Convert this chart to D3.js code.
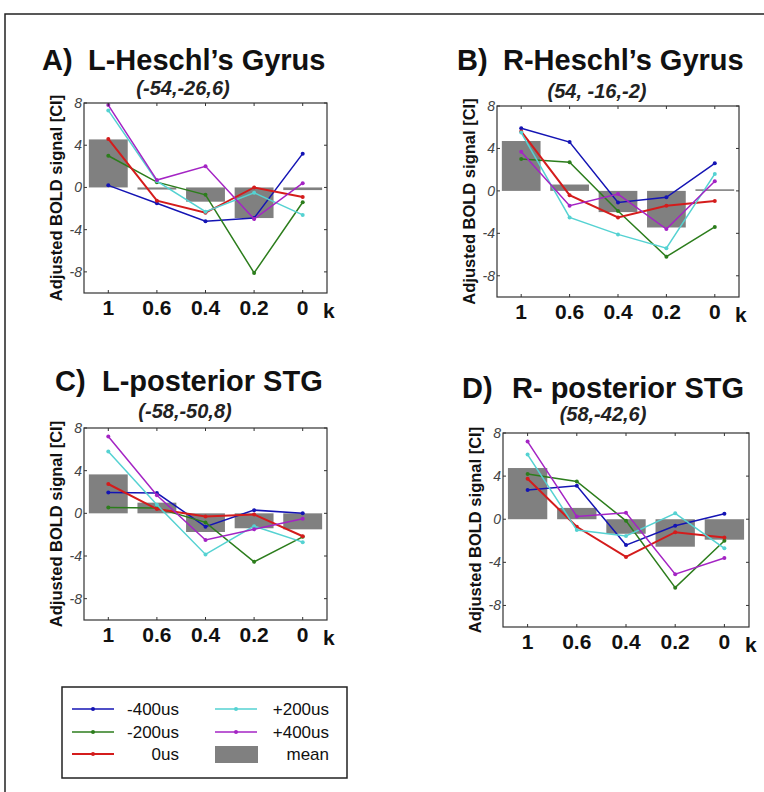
<!DOCTYPE html>
<html>
<head>
<meta charset="utf-8">
<script src="https://cdn.jsdelivr.net/npm/d3@7"></script>
<style>
  body { margin: 0; background: #fff; }
  svg { font-family: "Liberation Sans", Arial, sans-serif; }
</style>
</head>
<body>
<svg id="chart" width="764" height="792"></svg>
<script>
// categories on the x axis (k)
var kLabels = ["1", "0.6", "0.4", "0.2", "0"];
var seriesNames = ["-400us", "-200us", "0us", "+200us", "+400us"];
var seriesColors = ["#1414b4", "#2c7d1c", "#d41c1c", "#55d2d2", "#a424c4"];
var yTicks = [8, 4, 0, -4, -8];

// panel A  L-Heschl's Gyrus
var aM400 = [0.2, -1.5, -3.2, -2.9, 3.2];
var aM200 = [3.0, 0.5, -0.7, -8.1, -1.4];
var aZero = [4.6, -1.25, -2.4, 0.0, -0.9];
var aP200 = [7.3, 0.6, -2.3, -0.5, -2.6];
var aP400 = [7.8, 0.7, 2.0, -3.0, 0.4];
var aMean = [4.55, -0.2, -1.35, -2.9, -0.25];

// panel B  R-Heschl's Gyrus
var bM400 = [5.9, 4.6, -1.1, -0.6, 2.6];
var bM200 = [3.0, 2.7, -1.9, -6.2, -3.4];
var bZero = [5.6, -0.4, -2.5, -1.4, -0.95];
var bP200 = [5.5, -2.5, -4.1, -5.4, 1.6];
var bP400 = [3.7, -1.4, -0.3, -3.6, 0.9];
var bMean = [4.7, 0.6, -2.0, -3.45, 0.15];

// panel C  L-posterior STG
var cM400 = [1.95, 1.9, -1.25, 0.3, 0.0];
var cM200 = [0.55, 0.5, -0.85, -4.55, -2.2];
var cZero = [2.75, 0.4, -0.3, -0.1, -2.15];
var cP200 = [5.8, 0.8, -3.85, -1.2, -2.7];
var cP400 = [7.2, 1.7, -2.5, -1.5, -0.5];
var cMean = [3.65, 1.0, -1.75, -1.4, -1.5];

// panel D  R- posterior STG
var dM400 = [2.7, 3.1, -2.4, -0.6, 0.5];
var dM200 = [4.2, 3.5, -0.15, -6.35, -2.0];
var dZero = [3.75, -0.7, -3.5, -1.2, -1.7];
var dP200 = [6.0, -1.0, -1.55, 0.55, -2.7];
var dP400 = [7.2, 0.25, 0.6, -5.1, -3.6];
var dMean = [4.75, 1.05, -1.35, -2.55, -1.9];

var panels = [
  {tag: "A)", name: "L-Heschl\u2019s Gyrus", coord: "(-54,-26,6)", series: [aM400, aM200, aZero, aP200, aP400], mean: aMean,
   box: [84, 103, 327, 293], tagX: 42, nameX: 88, titleY: 70, subX: 183, subY: 95},
  {tag: "B)", name: "R-Heschl\u2019s Gyrus", coord: "(54, -16,-2)", series: [bM400, bM200, bZero, bP200, bP400], mean: bMean,
   box: [497, 106, 739, 297], tagX: 457, nameX: 503, titleY: 70, subX: 597, subY: 98},
  {tag: "C)", name: "L-posterior STG", coord: "(-58,-50,8)", series: [cM400, cM200, cZero, cP200, cP400], mean: cMean,
   box: [84, 428, 327, 620], tagX: 55, nameX: 102, titleY: 391, subX: 185, subY: 418},
  {tag: "D)", name: "R- posterior STG", coord: "(58,-42,6)", series: [dM400, dM200, dZero, dP200, dP400], mean: dMean,
   box: [503, 433, 749, 627], tagX: 462, nameX: 512, titleY: 398, subX: 603, subY: 421}
];

var svg = d3.select("#chart");

// outer frame
svg.append("rect").attr("x", 5).attr("y", 14).attr("width", 800).attr("height", 800)
  .attr("fill", "none").attr("stroke", "#222").attr("stroke-width", 1.5);

panels.forEach(function(p) {
  var x = d3.scaleLinear().domain([-0.5, 4.5]).range([p.box[0], p.box[2]]);
  var y = d3.scaleLinear().domain([-10, 8]).range([p.box[3], p.box[1]]);
  var g = svg.append("g");

  // titles
  g.append("text").attr("x", p.tagX).attr("y", p.titleY).text(p.tag)
    .attr("font-size", 29).attr("font-weight", "bold").attr("fill", "#111");
  g.append("text").attr("x", p.nameX).attr("y", p.titleY).text(p.name)
    .attr("font-size", 29).attr("font-weight", "bold").attr("fill", "#111");
  g.append("text").attr("x", p.subX).attr("y", p.subY).text(p.coord)
    .attr("text-anchor", "middle").attr("font-size", 20).attr("font-weight", "bold")
    .attr("font-style", "italic").attr("fill", "#222");

  // mean bars
  var bw = (x(1) - x(0)) * 0.8;
  g.selectAll("rect.bar").data(p.mean).enter().append("rect")
    .attr("x", function(d, i) { return x(i) - bw / 2; })
    .attr("y", function(d) { return y(Math.max(0, d)); })
    .attr("width", bw)
    .attr("height", function(d) { return Math.max(1.5, Math.abs(y(d) - y(0))); })
    .attr("fill", "#808080");

  // series lines
  var line = d3.line().x(function(d, i) { return x(i); }).y(function(d) { return y(d); });
  p.series.forEach(function(s, j) {
    g.append("path").datum(s).attr("d", line).attr("fill", "none")
      .attr("stroke", seriesColors[j]).attr("stroke-width", j === 2 ? 2 : 1.5);
    g.selectAll("circle.s" + j).data(s).enter().append("circle")
      .attr("cx", function(d, i) { return x(i); })
      .attr("cy", function(d) { return y(d); })
      .attr("r", 2).attr("fill", seriesColors[j]);
  });

  // box and inward ticks
  g.append("rect").attr("x", p.box[0]).attr("y", p.box[1])
    .attr("width", p.box[2] - p.box[0]).attr("height", p.box[3] - p.box[1])
    .attr("fill", "none").attr("stroke", "#333").attr("stroke-width", 1.2);
  var tickIdx = d3.range(kLabels.length);
  g.selectAll("line.xt").data(tickIdx).enter().append("line")
    .attr("x1", function(d) { return x(d); }).attr("x2", function(d) { return x(d); })
    .attr("y1", p.box[3]).attr("y2", p.box[3] - 3).attr("stroke", "#333");
  g.selectAll("line.xt2").data(tickIdx).enter().append("line")
    .attr("x1", function(d) { return x(d); }).attr("x2", function(d) { return x(d); })
    .attr("y1", p.box[1]).attr("y2", p.box[1] + 3).attr("stroke", "#333");
  g.selectAll("line.yt").data(yTicks).enter().append("line")
    .attr("x1", p.box[0]).attr("x2", p.box[0] + 3)
    .attr("y1", function(d) { return y(d); }).attr("y2", function(d) { return y(d); }).attr("stroke", "#333");
  g.selectAll("line.yt2").data(yTicks).enter().append("line")
    .attr("x1", p.box[2]).attr("x2", p.box[2] - 3)
    .attr("y1", function(d) { return y(d); }).attr("y2", function(d) { return y(d); }).attr("stroke", "#333");

  // tick labels
  g.selectAll("text.yl").data(yTicks).enter().append("text")
    .attr("x", p.box[0] - 2).attr("y", function(d) { return y(d) + 5; })
    .attr("text-anchor", "end").attr("font-size", 14).attr("font-style", "italic")
    .attr("fill", "#444").text(function(d) { return d; });
  g.selectAll("text.xl").data(kLabels).enter().append("text")
    .attr("x", function(d, i) { return x(i); }).attr("y", p.box[3] + 22)
    .attr("text-anchor", "middle").attr("font-size", 21).attr("font-weight", "bold")
    .attr("fill", "#111").text(function(d) { return d; });
  g.append("text").attr("x", p.box[2] - 4).attr("y", p.box[3] + 25).text("k")
    .attr("font-size", 21).attr("font-weight", "bold").attr("fill", "#111");

  // y axis label
  var cy = (p.box[1] + p.box[3]) / 2;
  g.append("text").attr("transform", "translate(" + (p.box[0] - 22) + "," + cy + ") rotate(-90)")
    .attr("text-anchor", "middle").attr("font-size", 16.5).attr("font-weight", "bold")
    .attr("fill", "#111").text("Adjusted BOLD signal [CI]");
});

// legend
var lg = svg.append("g");
lg.append("rect").attr("x", 62).attr("y", 687).attr("width", 285).attr("height", 91)
  .attr("fill", "#fff").attr("stroke", "#222").attr("stroke-width", 1.5);
var legendRows = [709, 732, 754];
seriesNames.forEach(function(n, j) {
  var col = j < 3 ? 0 : 1;
  var row = j < 3 ? j : j - 3;
  var x0 = col === 0 ? 72 : 215;
  var yy = legendRows[row];
  lg.append("line").attr("x1", x0).attr("x2", x0 + 42).attr("y1", yy).attr("y2", yy)
    .attr("stroke", seriesColors[j]).attr("stroke-width", j === 2 ? 2 : 1.5);
  lg.append("circle").attr("cx", x0 + 21).attr("cy", yy).attr("r", 2).attr("fill", seriesColors[j]);
  lg.append("text").attr("x", col === 0 ? 179 : 329).attr("y", yy + 6).attr("text-anchor", "end")
    .attr("font-size", 17).attr("fill", "#111").text(n);
});
lg.append("rect").attr("x", 215).attr("y", 746).attr("width", 43).attr("height", 17).attr("fill", "#808080");
lg.append("text").attr("x", 329).attr("y", 760).attr("text-anchor", "end")
  .attr("font-size", 17).attr("fill", "#111").text("mean");
</script>
</body>
</html>
